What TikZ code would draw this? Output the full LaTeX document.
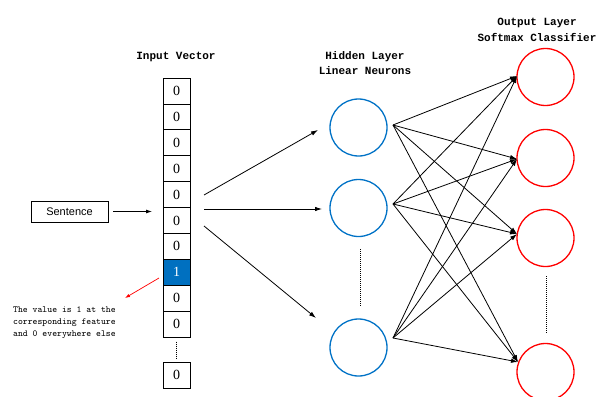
\documentclass[tikz,border=0pt]{standalone}
\usepackage{fontspec}
\setmainfont{Liberation Serif}
\setmonofont{Latin Modern Mono}
\newfontfamily\monofont{Liberation Mono}
\newfontfamily\uisans{Liberation Sans}
\usetikzlibrary{arrows.meta,calc}
\definecolor{hidblue}{RGB}{0,114,198}
\definecolor{cellblue}{RGB}{0,112,192}
\begin{document}
\begin{tikzpicture}[x=1pt,y=-1pt,
  cellbox/.style={draw,line width=0.9pt,minimum width=27pt,minimum height=25.9pt,inner sep=0pt,
    font=\fontsize{14}{14}\selectfont},
  title/.style={font=\monofont\bfseries\fontsize{11}{15.5}\selectfont,align=center},
  hidden/.style={circle,draw=hidblue,line width=1.3pt,minimum size=57pt,inner sep=0pt},
  outn/.style={circle,draw=red,line width=1.3pt,minimum size=57pt,inner sep=0pt},
  link/.style={-{Latex[length=7pt,width=4.5pt]},line width=0.8pt},
  vdots/.style={line width=1pt,dash pattern=on 1pt off 1pt}]
\useasboundingbox (0,0) rectangle (596,396);

% titles
\node[title] (tin) at (176,57) {Input Vector};
\node[title] (thid) at (365,63) {Hidden Layer\\Linear Neurons};
\node[title] (tout) at (537,30) {Output Layer\\Softmax Classifier};

% one-hot input vector
\foreach \i/\v in {0/0,1/0,2/0,3/0,4/0,5/0,6/0,8/0,9/0}
  \node[cellbox] (c\i) at (176.5,{91+25.9*\i}) {\v};
\node[cellbox,fill=cellblue,text=white] (c7) at (176.5,{91+25.9*7}) {1};
\node[cellbox] (clast) at (176.5,375) {0};
\draw[vdots] (c9.south) ++(0,4) -- ($(clast.north)+(0,-4)$);

% sentence input
\node[draw,line width=0.9pt,minimum width=77pt,minimum height=21pt,inner sep=0pt,
  font=\uisans\fontsize{11}{11}\selectfont] (sent) at (69.5,211.5) {Sentence};
\coordinate (vin) at (152,211.5);
\draw[link,-{Latex[length=6pt,width=4pt]}] ($(sent.east)+(5,0)$) -- (vin);

% annotation
\coordinate (pa) at (159,278);
\coordinate (pb) at (125,298);
\draw[red,line width=0.7pt,-{Latex[length=5pt,width=3.5pt]}] (pa) -- (pb);
\node[anchor=north west,inner sep=0pt,align=left,
  font=\ttfamily\fontsize{9.3}{12}\selectfont] (note) at (13,306.5)
  {The value is 1 at the\\corresponding feature\\and 0 everywhere else};

% hidden layer
\node[hidden] (h1) at (358.5,127.5) {};
\node[hidden] (h2) at (358.5,208) {};
\node[hidden] (h3) at (358.5,347.5) {};
\draw[vdots] (360,249) -- (360,307);

% output layer
\node[outn] (o1) at (545.5,77) {};
\node[outn] (o2) at (545.5,158) {};
\node[outn] (o3) at (545.5,238) {};
\node[outn] (o4) at (545.5,372) {};
\draw[vdots] (546,276) -- (546,334);

% input vector to hidden layer
\coordinate (s1) at (204,195);
\coordinate (s2) at (204,209);
\coordinate (s3) at (204,226);
\coordinate (e1) at (318,130);
\coordinate (e2) at (322,209);
\coordinate (e3) at (316,318);
\draw[link] (s1) -- (e1);
\draw[link] (s2) -- (e2);
\draw[link] (s3) -- (e3);

% hidden to output, fully connected
\coordinate (hs1) at (393,125);
\coordinate (hs2) at (393,204);
\coordinate (hs3) at (393,338);
\coordinate (oe1) at (517,76);
\coordinate (oe2) at (517,159);
\coordinate (oe3) at (517,234);
\coordinate (oe4) at (518,362);
\foreach \a in {1,2,3}
  \foreach \b in {1,2,3,4}
    \draw[link] (hs\a) -- (oe\b);
\end{tikzpicture}
\end{document}
